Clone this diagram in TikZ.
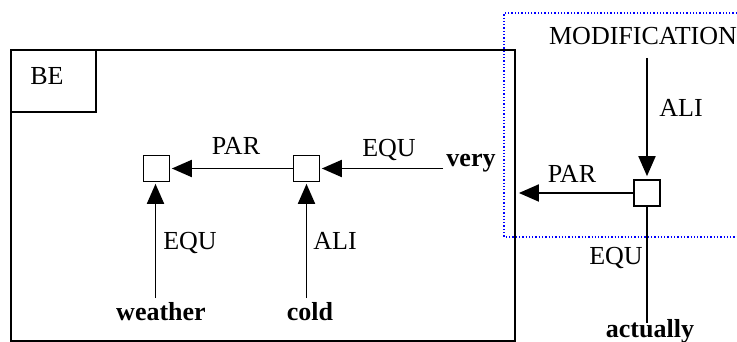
\documentclass[tikz,border=0pt]{standalone}
\usepackage{fontspec}
\setmainfont{Liberation Serif}
\usetikzlibrary{arrows.meta}
\begin{document}
\begin{tikzpicture}[x=1pt,y=-1pt,
  lbl/.style={anchor=base,inner sep=0pt,font=\fontsize{26}{31}\selectfont},
  word/.style={lbl,font=\fontsize{26}{31}\selectfont\bfseries},
  sq/.style={draw,line width=1.7pt,minimum size=26pt,inner sep=0pt,fill=white},
  arr/.style={line width=1.9pt,-{Triangle[length=20pt,width=17pt]},shorten >=1.5pt},
  plain/.style={line width=1.6pt}]
\useasboundingbox (0,0) rectangle (737,342);
% frames
\node[draw,line width=1.9pt,minimum width=504pt,minimum height=291pt,inner sep=0pt,anchor=north west] (be) at (10,49) {};
\node[draw,line width=1.7pt,minimum width=85pt,minimum height=62pt,inner sep=0pt,anchor=north west] (bebox) at (10,49) {};
\node[lbl] (betext) at (47,85) {BE};
\draw[blue,dotted,line width=1.3pt] (737,13) -- (504,13) -- (504,237) -- (737,237);
% squares
\node[sq] (s1) at (156.5,168.5) {};
\node[sq] (s2) at (306.5,168.5) {};
\node[sq] (s3) at (647,193) {};
% words
\node[word] (weather) at (161,320) {weather};
\node[word] (cold) at (310,320) {cold};
\node[word] (very) at (471,167) {very};
\node[word] (actually) at (650,337) {actually};
\node[lbl] (modif) at (643,45) {MODIFICATION};
\coordinate (wtop) at (155.5,298);
\coordinate (ctop) at (306.5,298);
\coordinate (vleft) at (443,168.5);
\coordinate (mbot) at (647,58);
\coordinate (atop) at (647,323);
% labels
\node[lbl] at (236,155) {PAR};
\node[lbl] at (389,157) {EQU};
\node[lbl] at (190,250) {EQU};
\node[lbl] at (335,250) {ALI};
\node[lbl] at (681,117) {ALI};
\node[lbl] at (572,183) {PAR};
\node[lbl] at (616,265) {EQU};
% connectors
\draw[arr] (s2.west) -- (s1.east);
\draw[arr] (vleft) -- (s2.east);
\draw[arr] (wtop) -- (wtop |- s1.south);
\draw[arr] (ctop) -- (s2.south);
\draw[arr,shorten >=3pt] (mbot) -- (s3.north);
\draw[arr,shorten >=3pt] (s3.west) -- (s3.west -| be.east);
\draw[plain] (s3.south) -- (atop);
\end{tikzpicture}
\end{document}
